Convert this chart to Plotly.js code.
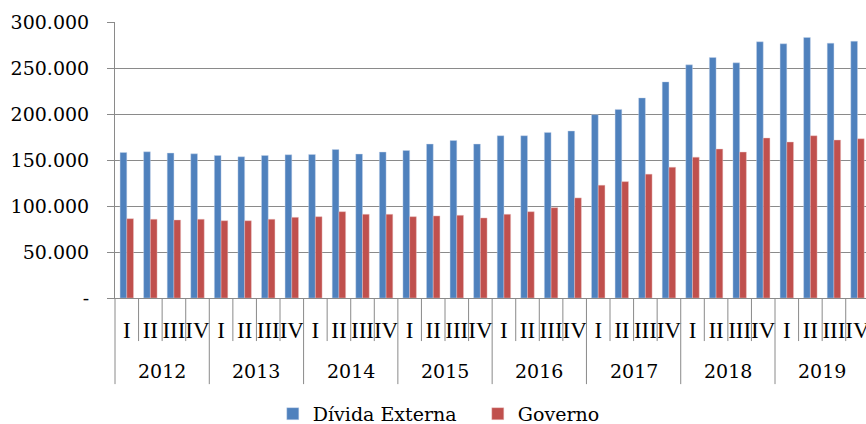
<!DOCTYPE html>
<html>
<head>
<meta charset="utf-8">
<script src="https://cdn.plot.ly/plotly-3.0.1.min.js"></script>
<style>html,body{margin:0;padding:0;background:#fff;}#chart{width:866px;height:424px;}</style>
</head>
<body>
<div id="chart"></div>
<script>
var years = ['2012', '2013', '2014', '2015', '2016', '2017', '2018', '2019'];
var quarters = ['I', 'II', 'III', 'IV'];
var dividaExterna = [
  158200, 158900, 157500, 156700,
  154900, 153500, 154900, 155700,
  156000, 161400, 156400, 158600,
  160300, 167300, 171200, 167300,
  176400, 176400, 180000, 181500,
  199300, 205000, 217500, 234900,
  253400, 261400, 255600, 278500,
  276300, 283200, 277000, 279100
];
var governo = [
  86200, 85600, 84800, 85600,
  84000, 84000, 85600, 87700,
  88400, 93800, 91000, 91000,
  88400, 89200, 89900, 87000,
  91000, 93800, 98200, 108800,
  122600, 126500, 134600, 142200,
  153100, 161900, 158600, 173900,
  169500, 176400, 171700, 173100
];
var yTickVals = [0, 50000, 100000, 150000, 200000, 250000, 300000];
var yTickText = ['-', '50.000', '100.000', '150.000', '200.000', '250.000', '300.000'];

var idx = [], qLabels = [];
years.forEach(function (y, yi) {
  quarters.forEach(function (q, qi) {
    idx.push(yi * quarters.length + qi);
    qLabels.push(q);
  });
});

var grid = '#8a8a8a';
var serif = 'DejaVu Serif, serif';

var traces = [
  {type: 'bar', name: 'Dívida Externa', x: idx, y: dividaExterna,
   marker: {color: '#4F81BD', line: {color: 'rgba(200,215,235,0.7)', width: 0.6}}},
  {type: 'bar', name: 'Governo', x: idx, y: governo,
   marker: {color: '#C0504D', line: {color: 'rgba(235,200,200,0.7)', width: 0.6}}}
];

var shapes = [];
var annotations = [];
var nq = quarters.length;
shapes.push({type: 'line', xref: 'paper', yref: 'paper', x0: 0, x1: 0, y0: 0, y1: -0.312,
             line: {color: grid, width: 1}});
for (var i = 1; i < idx.length; i++) {
  var yearB = (i % nq === 0);
  shapes.push({type: 'line', xref: 'x', yref: 'paper', x0: i - 0.5, x1: i - 0.5,
               y0: 0, y1: yearB ? -0.312 : -0.156, line: {color: grid, width: 1}});
}
years.forEach(function (y, yi) {
  annotations.push({xref: 'x', yref: 'paper', x: yi * nq + (nq - 1) / 2, y: -0.264,
                    text: y, showarrow: false, yanchor: 'middle',
                    font: {family: serif, size: 19, color: '#000'}});
});

var layout = {
  width: 866, height: 424,
  margin: {l: 115, r: 0, t: 22, b: 126},
  paper_bgcolor: '#fff', plot_bgcolor: '#fff',
  barmode: 'group', bargap: 0.43, bargroupgap: 0,
  showlegend: true,
  legend: {orientation: 'h', xref: 'container', yref: 'container',
           x: 0.315, xanchor: 'left', y: 0.024, yanchor: 'middle',
           font: {family: serif, size: 19, color: '#000'},
           entrywidth: 160, entrywidthmode: 'pixels', bgcolor: 'rgba(0,0,0,0)'},
  xaxis: {range: [-0.5, 31.36], tickvals: idx, ticktext: qLabels, tickangle: 0,
          ticks: '', showgrid: false, zeroline: false, showline: true,
          linecolor: grid, linewidth: 1, ticklabelstandoff: 11,
          ticklabeloverflow: 'allow',
          tickfont: {family: 'Liberation Serif, serif', size: 23, color: '#000'}},
  yaxis: {range: [0, 300000], tickvals: yTickVals, ticktext: yTickText,
          showgrid: true, gridcolor: grid, gridwidth: 1, zeroline: false,
          showline: true, linecolor: grid, linewidth: 1,
          ticks: 'outside', ticklen: 7, tickcolor: grid, ticklabelstandoff: 14,
          tickfont: {family: serif, size: 19, color: '#000'}},
  shapes: shapes,
  annotations: annotations
};

Plotly.newPlot('chart', traces, layout, {displayModeBar: false, staticPlot: true});
</script>
</body>
</html>
